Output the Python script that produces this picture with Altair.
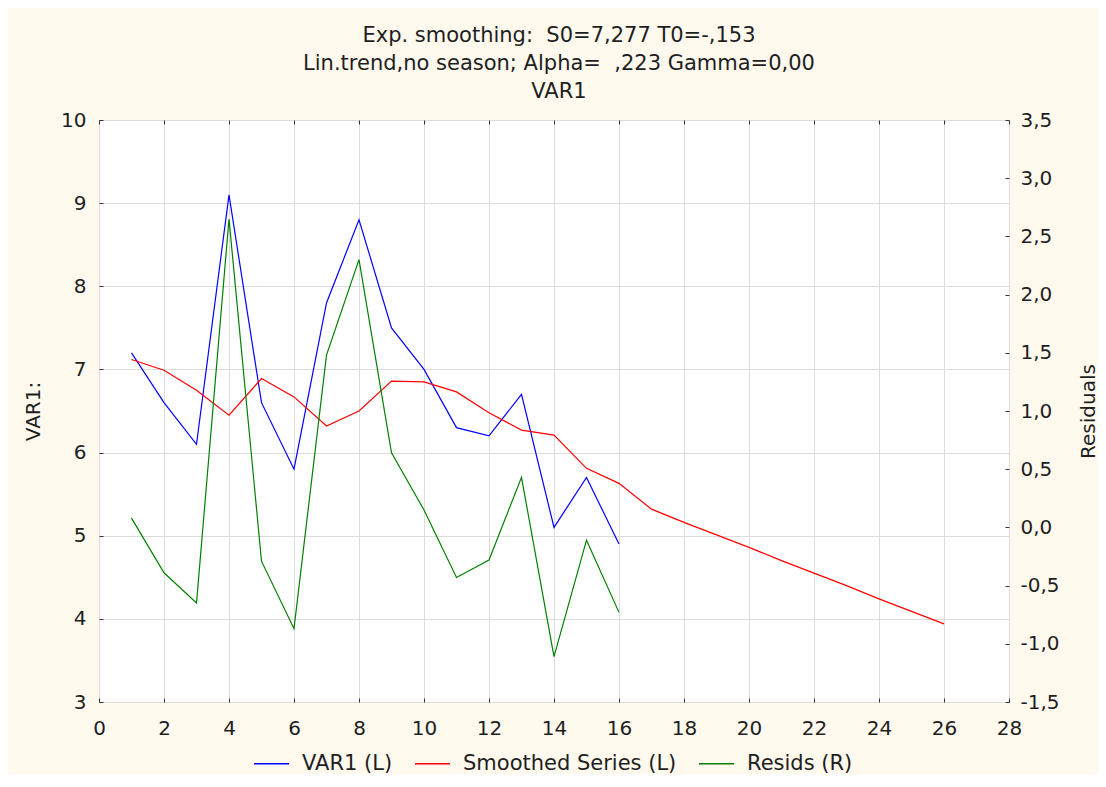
import altair as alt
import pandas as pd

# ---- data ----
t_obs = list(range(1, 17))
var1 = [7.2, 6.6, 6.1, 9.1, 6.6, 5.8, 7.8, 8.8, 7.5, 7.0, 6.3, 6.2, 6.7, 5.1, 5.7, 4.9]

t_all = list(range(1, 27))
smoothed = [7.12, 6.99, 6.75, 6.45, 6.89, 6.67, 6.32, 6.50, 6.86, 6.85, 6.73, 6.48, 6.27,
            6.21, 5.81, 5.63, 5.32, 5.16, 5.01, 4.86, 4.70, 4.55, 4.40, 4.24, 4.09, 3.94]

resids = [0.08, -0.39, -0.65, 2.65, -0.29, -0.87, 1.48, 2.30, 0.64, 0.15, -0.43, -0.28,
          0.43, -1.11, -0.11, -0.73]

series_names = ["VAR1 (L)", "Smoothed Series (L)", "Resids (R)"]
series_colors = ["#0000FF", "#FF0000", "#008000"]

x_ticks = list(range(0, 29, 2))
left_ticks = list(range(3, 11))
right_ticks = [-1.5, -1.0, -0.5, 0.0, 0.5, 1.0, 1.5, 2.0, 2.5, 3.0, 3.5]

title_lines = [
    "Exp. smoothing:\u00a0 S0=7,277 T0=-,153",
    "Lin.trend,no season; Alpha=\u00a0 ,223 Gamma=0,00",
    "VAR1",
]

left_df = pd.concat([
    pd.DataFrame({"t": t_obs, "value": var1, "series": series_names[0]}),
    pd.DataFrame({"t": t_all, "value": smoothed, "series": series_names[1]}),
], ignore_index=True)
resid_df = pd.DataFrame({"t": t_obs, "resid": resids, "series": series_names[2]})

FONT = "DejaVu Sans"
TXT = "#1e1e1e"
FRAME = "#333333"
GRID = "#DCDCDC"
BG = "#FFF9EE"

W, H = 910, 582

color = alt.Color(
    "series:N",
    scale=alt.Scale(domain=series_names, range=series_colors),
    legend=alt.Legend(
        orient="none", legendX=154, legendY=625, direction="horizontal",
        title=None, symbolType="stroke", symbolSize=1225, symbolStrokeWidth=1.5,
        labelFont=FONT, labelFontSize=21, labelColor=TXT, labelOffset=12,
        columnPadding=19, padding=0, labelLimit=500,
    ),
)

xscale = alt.Scale(domain=[0, 28], nice=False, zero=False)

left = alt.Chart(left_df).mark_line(strokeWidth=1.2).encode(
    x=alt.X("t:Q", scale=xscale, axis=alt.Axis(
        orient="bottom", values=x_ticks, title=None, grid=True, gridColor=GRID,
        domain=False, tickSize=4, offset=-4, labelPadding=16, labelFlush=False,
        tickColor=FRAME, labelFont=FONT, labelFontSize=20, labelColor=TXT,
        labelOverlap=False)),
    y=alt.Y("value:Q", scale=alt.Scale(domain=[3, 10], nice=False, zero=False), axis=alt.Axis(
        orient="left", values=left_ticks, title="VAR1:", grid=True, gridColor=GRID,
        domain=False, tickSize=4, offset=-4, labelPadding=13, labelFlush=False,
        tickColor=FRAME, labelFont=FONT, labelFontSize=20, labelColor=TXT,
        labelOverlap=False,
        titleFont=FONT, titleFontSize=20, titleFontWeight="normal", titleColor=TXT,
        titleAngle=270, titleX=-70, titleY=H / 2, titleBaseline="middle",
        titleAlign="center")),
    color=color,
)

right = alt.Chart(resid_df).mark_line(strokeWidth=1.2).encode(
    x=alt.X("t:Q", scale=xscale, axis=alt.Axis(
        orient="top", values=x_ticks, title=None, labels=False, grid=False,
        domain=False, tickSize=4, offset=-4, tickColor=FRAME)),
    y=alt.Y("resid:Q", scale=alt.Scale(domain=[-1.5, 3.5], nice=False, zero=False), axis=alt.Axis(
        orient="right", values=right_ticks, title="Residuals", grid=False,
        labelExpr="replace(replace(format(datum.value, '.1f'), '.', ','), '\u2212', '-')",
        domain=False, tickSize=4, offset=-4, labelPadding=11, labelFlush=False,
        tickColor=FRAME, labelFont=FONT, labelFontSize=20, labelColor=TXT,
        labelOverlap=False,
        titleFont=FONT, titleFontSize=20, titleFontWeight="normal", titleColor=TXT,
        titleAngle=270, titleX=83, titleY=H / 2, titleBaseline="middle",
        titleAlign="center")),
    color=color,
)

chart = alt.layer(left, right).resolve_scale(
    y="independent"
).resolve_axis(
    x="independent", y="independent"
).properties(
    width=W, height=H,
    autosize=alt.AutoSizeParams(type="none"),
    padding={"left": 91, "top": 112, "right": 89, "bottom": 72},
    title=alt.TitleParams(
        text=title_lines, font=FONT, fontSize=21, fontWeight="normal", color=TXT,
        lineHeight=28, baseline="bottom", offset=0, dy=13, dx=5,
        anchor="middle", frame="group",
    ),
).configure(
    background=BG,
).configure_view(
    stroke=FRAME, strokeWidth=1, fill="#FFFFFF",
)

chart.save("out.html", embed_options={"renderer": "svg", "actions": False})
